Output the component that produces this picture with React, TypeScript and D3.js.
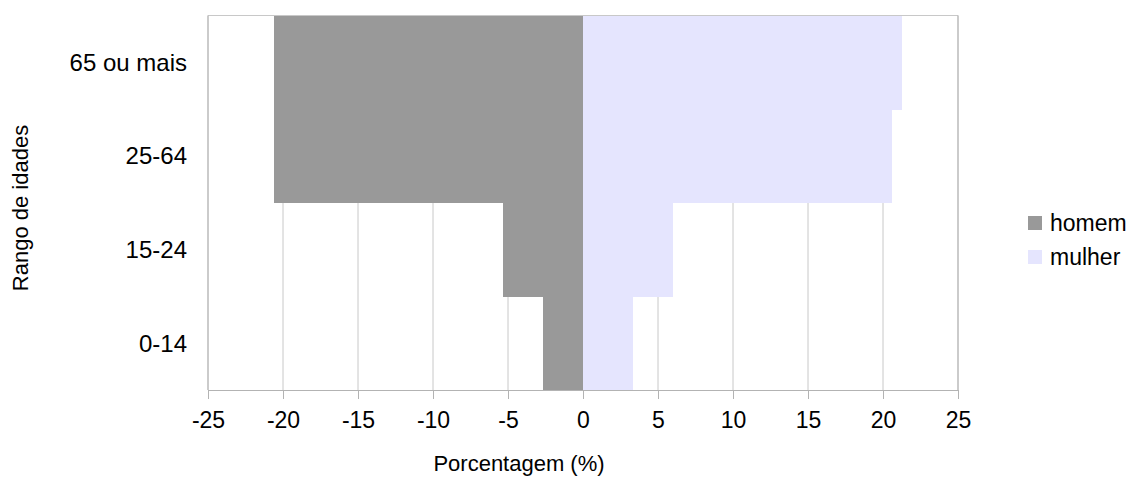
import { useEffect, useRef } from 'react';
import * as d3 from 'd3';

const categories = ['0-14', '15-24', '25-64', '65 ou mais'];
const homem = [-2.67, -5.35, -20.6, -20.6];
const mulher = [3.3, 6.0, 20.6, 21.25];
const xTicks = [-25, -20, -15, -10, -5, 0, 5, 10, 15, 20, 25];
const seriesNames = ['homem', 'mulher'];
const seriesColors = ['#999999', '#e5e5fe'];

const App = () => {
  const ref = useRef<SVGSVGElement | null>(null);

  useEffect(() => {
    const svg = d3.select(ref.current);
    svg.selectAll('*').remove();

    const margin = { top: 15.5, left: 208, right: 958, bottom: 390 };
    const font = 'Liberation Sans, Arial, Helvetica, sans-serif';

    const x = d3.scaleLinear().domain([-25, 25]).range([margin.left, margin.right]);
    const y = d3.scaleBand()
      .domain([...categories].reverse())
      .range([margin.top, margin.bottom])
      .padding(0);

    // grid lines
    svg.append('g')
      .selectAll('line')
      .data(xTicks)
      .enter().append('line')
      .attr('x1', d => x(d))
      .attr('x2', d => x(d))
      .attr('y1', margin.top)
      .attr('y2', margin.bottom)
      .attr('stroke', '#c8c8c8')
      .attr('stroke-width', 1);

    // top border
    svg.append('line')
      .attr('x1', margin.left).attr('x2', margin.right)
      .attr('y1', margin.top).attr('y2', margin.top)
      .attr('stroke', '#c8c8c8');

    // bars
    const series = [homem, mulher];
    series.forEach((vals, si) => {
      svg.append('g')
        .attr('shape-rendering', 'crispEdges')
        .selectAll('rect')
        .data(vals)
        .enter().append('rect')
        .attr('x', d => x(Math.min(0, d)))
        .attr('width', d => Math.abs(x(d) - x(0)))
        .attr('y', (_, i) => y(categories[i])!)
        .attr('height', y.bandwidth() + 0.5)
        .attr('fill', seriesColors[si]);
    });

    // x axis
    const xAxis = svg.append('g')
      .attr('transform', `translate(0, ${margin.bottom})`)
      .call(d3.axisBottom(x).tickValues(xTicks).tickSize(9).tickPadding(13).tickFormat(d => String(d)));
    xAxis.select('.domain').attr('stroke', '#b3b3b3');
    xAxis.selectAll('.tick line').attr('stroke', '#b3b3b3');
    xAxis.selectAll('.tick text')
      .attr('fill', '#000')
      .style('font-size', '23px')
      .style('font-family', font);

    // left/right borders
    [margin.left, margin.right].forEach(px => {
      svg.append('line')
        .attr('x1', px).attr('x2', px)
        .attr('y1', margin.top).attr('y2', margin.bottom)
        .attr('stroke', '#b3b3b3');
    });

    // y labels
    svg.append('g')
      .selectAll('text')
      .data(categories)
      .enter().append('text')
      .attr('x', 187)
      .attr('y', d => y(d)! + y.bandwidth() / 2)
      .attr('dy', '0.35em')
      .attr('text-anchor', 'end')
      .style('font-size', '24px')
      .style('font-family', font)
      .text(d => d);

    // axis titles
    svg.append('text')
      .attr('x', 519)
      .attr('y', 471)
      .attr('text-anchor', 'middle')
      .style('font-size', '22px')
      .style('font-family', font)
      .text('Porcentagem (%)');

    svg.append('text')
      .attr('transform', 'translate(28, 208) rotate(-90)')
      .attr('text-anchor', 'middle')
      .style('font-size', '22px')
      .style('font-family', font)
      .text('Rango de idades');

    // legend
    const legend = svg.append('g');
    seriesNames.forEach((name, i) => {
      legend.append('rect')
        .attr('x', 1028)
        .attr('y', 216 + i * 34)
        .attr('width', 14)
        .attr('height', 14)
        .attr('fill', seriesColors[i]);
      legend.append('text')
        .attr('x', 1050)
        .attr('y', 223 + i * 34)
        .attr('dy', '0.35em')
        .style('font-size', '23px')
        .style('font-family', font)
        .text(name);
    });
  }, []);

  return (
    <svg ref={ref} width={1136} height={480}
      style={{ position: 'absolute', left: 0, top: 0, background: '#fff' }} />
  );
};

export default App;
